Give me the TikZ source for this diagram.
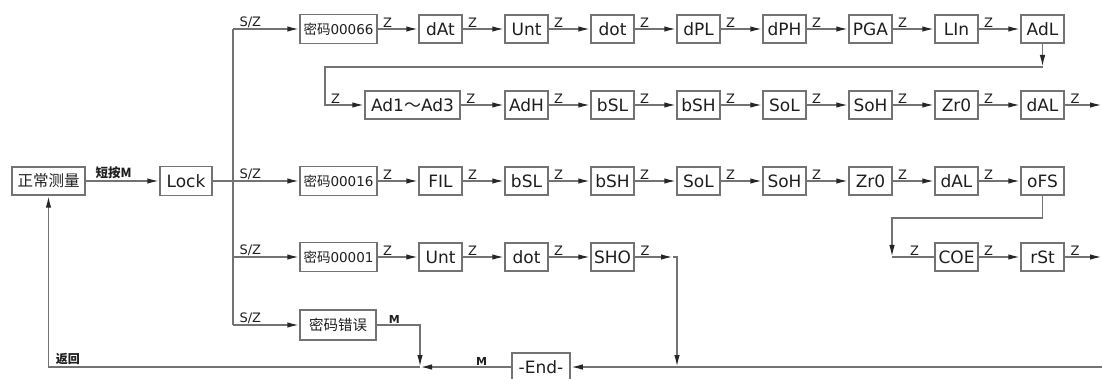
\documentclass[tikz,border=0pt]{standalone}
\usepackage{fontspec}
\setmainfont{DejaVu Sans}
\newfontfamily\cjk{Noto Sans CJK SC}
\usetikzlibrary{arrows.meta,calc}
\definecolor{lg}{RGB}{115,115,115}
\definecolor{tx}{RGB}{30,30,30}
\tikzset{
  ln/.style={draw=lg, line width=1.6pt},
  ar/.style={ln, -{Latex[length=12pt,width=5.5pt,color=black!85]}},
  bx/.style={draw=lg, line width=1.5pt, minimum width=43pt, minimum height=28pt, inner sep=0pt, text=tx, font=\fontsize{17}{17}\selectfont},
  pw/.style={bx, minimum width=77pt, minimum height=29pt, font=\fontsize{13.5}{13.5}\selectfont},
  zl/.style={inner sep=0.5pt, anchor=south west, text=tx, font=\fontsize{13}{13}\selectfont},
  ml/.style={inner sep=0.5pt, anchor=south west, text=tx, font=\fontsize{11}{11}\selectfont\bfseries},
}
\newcommand{\mm}{{\cjk\fontsize{13.5}{13.5}\selectfont 密码}}
\begin{document}
\begin{tikzpicture}[x=1pt,y=-1pt]
\useasboundingbox (0,0) rectangle (1102,379);
% left part
\node[bx, minimum width=73pt, font=\cjk\fontsize{15.5}{15.5}\selectfont] (zc) at (48.5,181) {正常测量};
\node[bx, minimum width=52pt, minimum height=29pt] (lock) at (186,181) {Lock};
\draw[ar] (zc.east) -- node[pos=0.38, anchor=south, inner sep=1.5pt, text=tx, font=\cjk\fontsize{12.5}{12.5}\selectfont\bfseries]{短按M} (lock.west);
% bus
\coordinate (b1) at (233,29);
\coordinate (b3) at (233,181);
\coordinate (b4) at (233,257);
\coordinate (b5) at (233,325);
\draw[ln] (b1) -- (b5);
\draw[ln] (lock.east) -- (b3);
% row 1
\node[pw] (a0) at (338.5,29) {\mm00066};
\foreach \t [count=\i] in {dAt,Unt,dot,dPL,dPH,PGA,LIn,AdL}
  \node[bx] (a\i) at ({354.5+86*\i},29) {\t};
\foreach \i/\j in {0/1,1/2,2/3,3/4,4/5,5/6,6/7,7/8}
  \draw[ar] (a\i.east) -- node[zl,pos=0.1]{Z} (a\j.west);
\draw[ar] (b1) -- node[zl,pos=0.08]{S/Z} (a0.west);
% row 2
\node[bx, minimum width=95pt] (r0) at (412.5,105) {Ad1{\cjk ～}Ad3};
\foreach \t [count=\i] in {AdH,bSL,bSH,SoL,SoH,Zr0,dAL}
  \node[bx] (r\i) at ({440.5+86*\i},105) {\t};
\foreach \i/\j in {0/1,1/2,2/3,3/4,4/5,5/6,6/7}
  \draw[ar] (r\i.east) -- node[zl,pos=0.1]{Z} (r\j.west);
\coordinate (r2e) at (1102,105);
\draw[ar] (r7.east) -- node[zl,pos=0.12]{Z} (r2e);
\coordinate (ca) at (1042.5,67);
\coordinate (cb) at (325,67);
\coordinate (cc) at (325,105);
\draw[ar] (a8.south) -- (ca);
\draw[ar] (ca) -- (cb) -- (cc) -- node[zl,pos=0.12]{Z} (r0.west);
% row 3
\node[pw] (c0) at (338.5,181) {\mm00016};
\foreach \t [count=\i] in {FIL,bSL,bSH,SoL,SoH,Zr0,dAL,oFS}
  \node[bx] (c\i) at ({354.5+86*\i},181) {\t};
\foreach \i/\j in {0/1,1/2,2/3,3/4,4/5,5/6,6/7,7/8}
  \draw[ar] (c\i.east) -- node[zl,pos=0.1]{Z} (c\j.west);
\draw[ar] (b3) -- node[zl,pos=0.08]{S/Z} (c0.west);
\coordinate (cd) at (1042.5,218);
\coordinate (ce) at (892,218);
\coordinate (cf) at (892,257);
\draw[ar] (c8.south) -- (cd) -- (ce) -- (cf);
\node[bx] (d5) at (956.5,257) {COE};
\node[bx] (d6) at (1042.5,257) {rSt};
\draw[ln] (cf) -- node[zl,pos=0.4]{Z} (d5.west);
\draw[ar] (d5.east) -- node[zl,pos=0.1]{Z} (d6.west);
\coordinate (r4e) at (1102,257);
\draw[ar] (d6.east) -- node[zl,pos=0.12]{Z} (r4e);
% row 4
\node[pw] (d0) at (338.5,257) {\mm00001};
\foreach \t [count=\i] in {Unt,dot,SHO}
  \node[bx] (d\i) at ({354.5+86*\i},257) {\t};
\foreach \i/\j in {0/1,1/2,2/3}
  \draw[ar] (d\i.east) -- node[zl,pos=0.1]{Z} (d\j.west);
\draw[ar] (b4) -- node[zl,pos=0.08]{S/Z} (d0.west);
\coordinate (cg) at (673,257);
\coordinate (ch) at (677,257);
\coordinate (ci) at (677,367);
\draw[ar] (d3.east) -- node[zl,pos=0.12]{Z} (cg);
\draw[ar] (cg) -- (ch) -- (ci);
% row 5
\node[pw, minimum width=76pt, minimum height=30pt, font=\cjk\fontsize{14.5}{14.5}\selectfont] (e0) at (338,325) {密码错误};
\draw[ar] (b5) -- node[zl,pos=0.08]{S/Z} (e0.west);
\coordinate (cj) at (420,325);
\coordinate (ck) at (420,367);
\draw[ar] (e0.east) -- node[ml,pos=0.25]{M} (cj) -- (ck);
% bottom
\node[bx, minimum width=58pt] (end) at (541,367) {-End-};
\coordinate (cr) at (1102,367);
\coordinate (cl) at (48.5,367);
\draw[ar] (cr) -- (end.east);
\draw[ar] (end.west) -- node[ml,pos=0.4]{M} (ck);
\draw[ar] (ck) -- node[pos=0.985, anchor=south west, inner sep=1pt, text=tx, font=\cjk\fontsize{12}{12}\selectfont\bfseries]{返回} (cl) -- (zc.south);
\end{tikzpicture}
\end{document}
